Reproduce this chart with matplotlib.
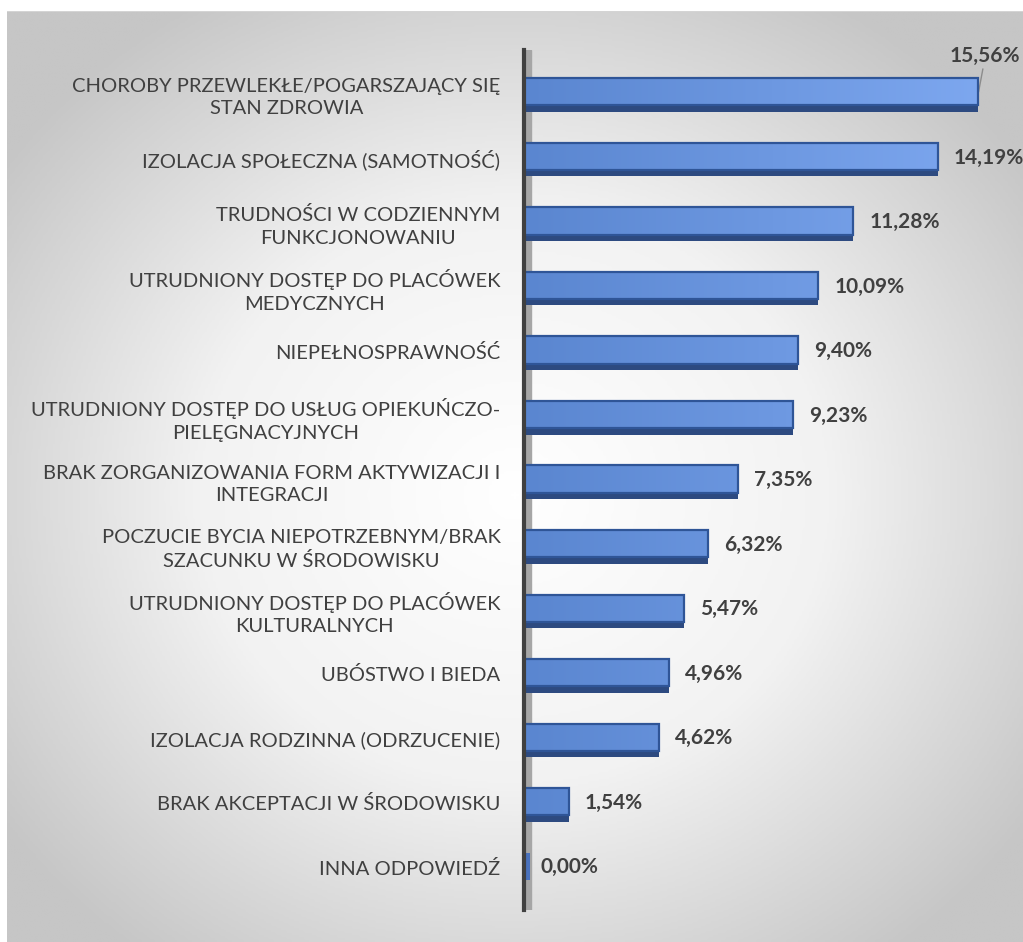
import numpy as np
import matplotlib.pyplot as plt
from matplotlib.colors import LinearSegmentedColormap

categories = ['CHOROBY PRZEWLEKŁE/POGARSZAJĄCY SIĘ\nSTAN ZDROWIA',
              'IZOLACJA SPOŁECZNA (SAMOTNOŚĆ)',
              'TRUDNOŚCI W CODZIENNYM\nFUNKCJONOWANIU',
              'UTRUDNIONY DOSTĘP DO PLACÓWEK\nMEDYCZNYCH',
              'NIEPEŁNOSPRAWNOŚĆ',
              'UTRUDNIONY DOSTĘP DO USŁUG OPIEKUŃCZO-\nPIELĘGNACYJNYCH',
              'BRAK ZORGANIZOWANIA FORM AKTYWIZACJI I\nINTEGRACJI',
              'POCZUCIE BYCIA NIEPOTRZEBNYM/BRAK\nSZACUNKU W ŚRODOWISKU',
              'UTRUDNIONY DOSTĘP DO PLACÓWEK\nKULTURALNYCH',
              'UBÓSTWO I BIEDA',
              'IZOLACJA RODZINNA (ODRZUCENIE)',
              'BRAK AKCEPTACJI W ŚRODOWISKU',
              'INNA ODPOWIEDŹ']
values = [15.56, 14.19, 11.28, 10.09, 9.40, 9.23, 7.35, 6.32, 5.47, 4.96, 4.62, 1.54, 0.00]
value_labels = ['15,56%', '14,19%', '11,28%', '10,09%', '9,40%', '9,23%', '7,35%',
                '6,32%', '5,47%', '4,96%', '4,62%', '1,54%', '0,00%']

plt.rcParams['font.family'] = ['Lato', 'DejaVu Sans']

fig = plt.figure(figsize=(10.23, 9.42), dpi=100)

# radial gray background panel
bg = fig.add_axes([7/1023, 0, 1 - 7/1023, 1 - 11/942])
bg.set_axis_off()
gx, gy = np.meshgrid(np.linspace(0, 1, 400), np.linspace(0, 1, 400))
r = np.sqrt(((gx - 0.5) / 0.62) ** 2 + ((gy - 0.52) / 0.62) ** 2)
r = np.clip(r, 0, 1)
bgmap = LinearSegmentedColormap.from_list('bg', ['#ffffff', '#f2f2f2', '#c6c6c6'])
bg.imshow(r, cmap=bgmap, extent=[0, 1, 0, 1], aspect='auto', origin='upper')
bg.set_xlim(0, 1)
bg.set_ylim(0, 1)
bg.plot([0, 1], [1, 1], color='#d4d4d4', lw=1.5)

ax = fig.add_axes([524/1023, 32/942, 496/1023, 860/942])
ax.patch.set_alpha(0)
y = np.arange(len(categories))

# grey side wall of the axis
ax.axvspan(0, 0.25, color='#a6a6a6', zorder=1)

barmap = LinearSegmentedColormap.from_list('bar', ['#5a86d0', '#80aaf2'])
grad = np.linspace(0, 1, 256).reshape(1, -1)
# bottom (depth) side of the bars
ax.barh(y + 0.24, values, height=0.1, color='#2d4a80', zorder=2)
bars = ax.barh(y - 0.02, values, height=0.42, color='none', edgecolor='#2f5597',
               linewidth=1.6, zorder=4)
for b in bars:
    im = ax.imshow(grad, cmap=barmap, extent=[0, 17, 13, -1], aspect='auto', zorder=3)
    im.set_clip_path(b)
# sliver for the zero bar (3D depth)
ax.barh(y[values.index(0.0)] - 0.02, 0.2, height=0.42, color='#4a72bd', zorder=4)

ax.spines[['top', 'right', 'bottom']].set_visible(False)
ax.spines['left'].set_linewidth(3)
ax.spines['left'].set_color('#404040')
ax.spines['left'].set_zorder(5)
ax.set_xlim(0, 17)
ax.set_ylim(12.66, -0.67)
ax.set_xticks([])
ax.set_yticks(y)
ax.set_yticklabels(categories, fontsize=14.5, color='#404040', linespacing=1.4,
                   ha='right', multialignment='center')
ax.tick_params(axis='y', length=0, pad=17)

for i, (v, lab) in enumerate(zip(values, value_labels)):
    if i == 0:
        ax.annotate(lab, xy=(v + 0.02, i - 0.02), xytext=(v + 0.25, i - 0.42),
                    ha='center', va='bottom', fontsize=15, fontweight='bold',
                    color='#404040',
                    arrowprops=dict(arrowstyle='-', color='#8c8c8c', lw=1,
                                    shrinkA=0, shrinkB=0))
    else:
        ax.text(v + 0.55, i, lab, ha='left', va='center', fontsize=15,
                fontweight='bold', color='#404040')

fig.savefig('out.png', dpi=100)
